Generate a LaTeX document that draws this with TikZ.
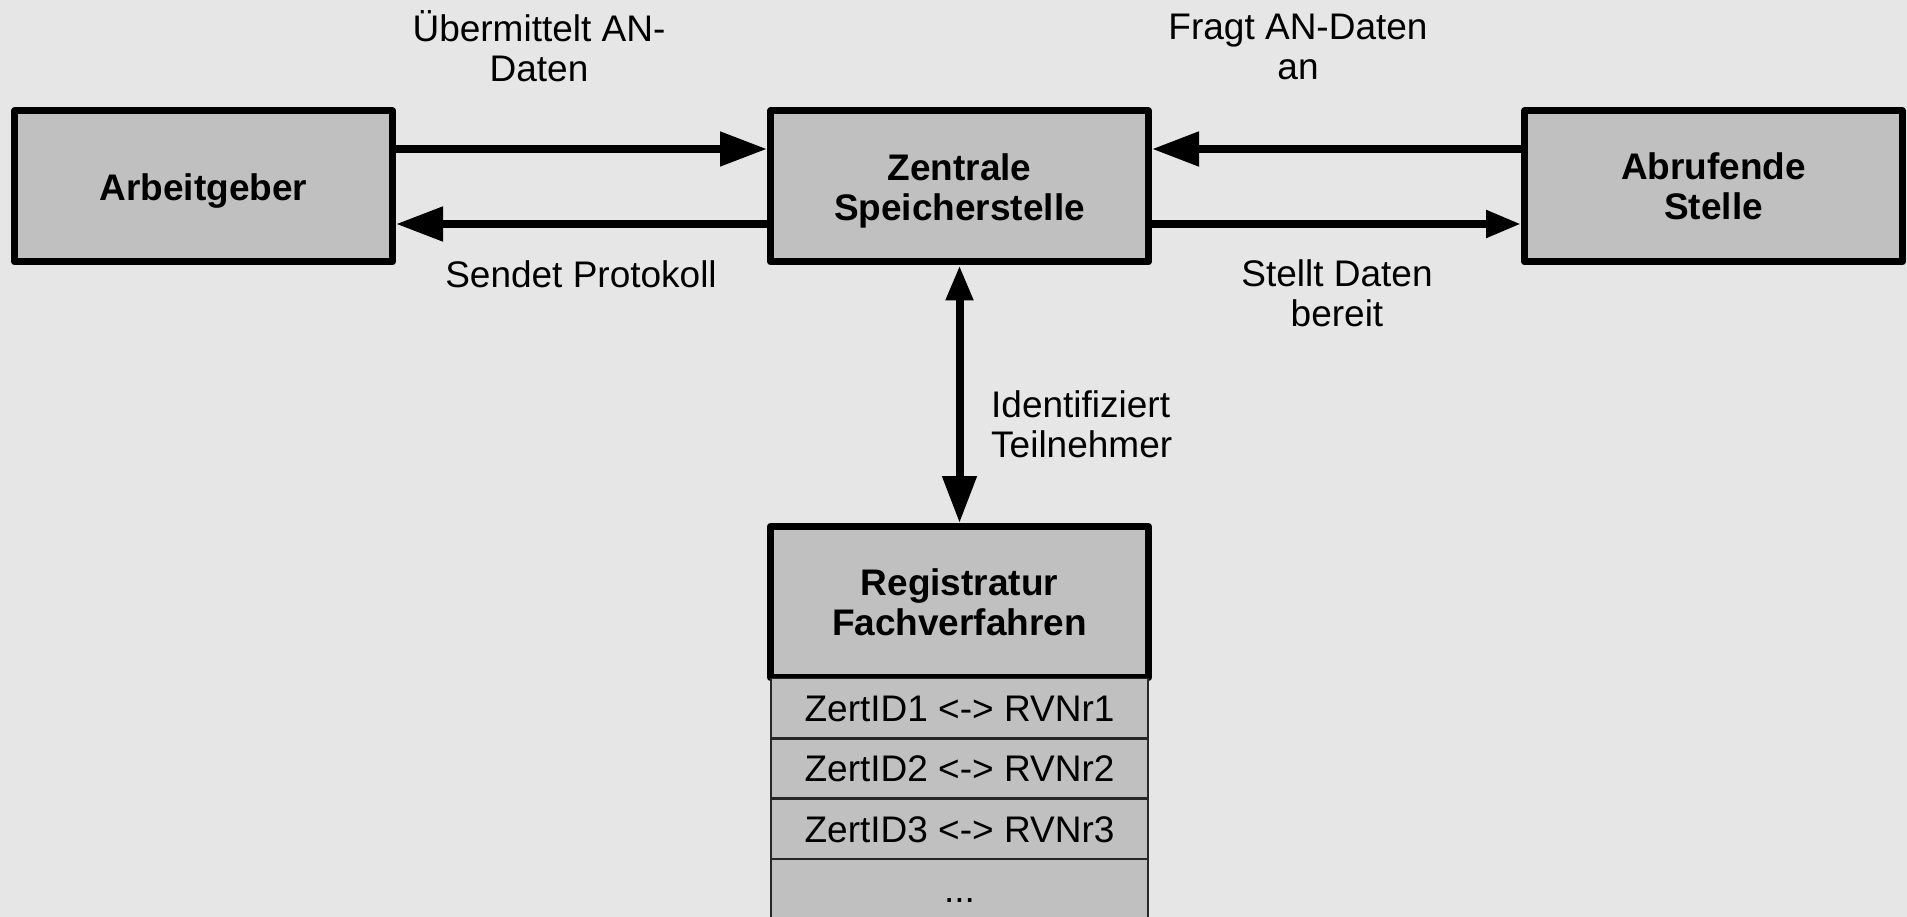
\documentclass[tikz,border=0pt]{standalone}
\usepackage{fontspec}
\setmainfont{Liberation Sans}
\usetikzlibrary{arrows.meta,calc}
\definecolor{bgcol}{HTML}{E6E6E6}
\definecolor{boxfill}{HTML}{C0C0C0}
\tikzset{
  BigTri/.tip={Triangle[length=47pt,width=33pt]},
  SmallTri/.tip={Triangle[length=35pt,width=26pt]},
}
\begin{document}
\begin{tikzpicture}[x=1pt,y=-1pt,
  box/.style={draw=black, fill=boxfill, line width=7pt, line join=round, minimum width=378pt, minimum height=151pt, inner sep=0pt, align=center, font=\fontsize{37pt}{40pt}\selectfont\bfseries},
  lbl/.style={align=center, font=\fontsize{37pt}{40pt}\selectfont, inner sep=0pt},
  boldlbl/.style={lbl, font=\fontsize{37pt}{40pt}\selectfont\bfseries},
  tablerow/.style={draw=black!85, fill=boxfill, line width=1.3pt, minimum width=377pt, minimum height=59pt, inner sep=0pt, outer sep=0pt, text height=26.6pt, text depth=0pt, font=\fontsize{37pt}{40pt}\selectfont},
  conn/.style={line width=8pt},
]
\useasboundingbox[fill=bgcol] (0,0) rectangle (1907,917);

\node[box] (ag) at (203.5,186.5) {};
\node[boldlbl] (agt) at (203.5,191.5) {Arbeitgeber};
\node[box] (zs) at (959.5,186.5) {};
\node[boldlbl] (zst) at (959.5,191) {Zentrale\\Speicherstelle};
\node[box] (ab) at (1713.5,186.5) {Abrufende\\Stelle};

\node[box] (rf) at (959.5,602) {Registratur\\Fachverfahren};
\node[tablerow] (r1) at (959.5,708.2) {ZertID1 <-> RVNr1};
\node[tablerow] (r2) at (959.5,768.5) {ZertID2 <-> RVNr2};
\node[tablerow] (r3) at (959.5,828.8) {ZertID3 <-> RVNr3};
\node[tablerow] (r4) at (959.5,889.1) {...};

\coordinate (ytop) at (0,149);
\coordinate (ybot) at (0,224);

\draw[conn,-BigTri] (ag.east |- ytop) -- (zs.west |- ytop);
\draw[conn,-BigTri] (zs.west |- ybot) -- (ag.east |- ybot);
\draw[conn,-BigTri] (ab.west |- ytop) -- (zs.east |- ytop);
\draw[conn,-SmallTri] (zs.east |- ybot) -- (ab.west |- ybot);
\draw[conn,SmallTri-BigTri] (zs.south) -- (rf.north);

\node[lbl] (l1) at (539,46) {Übermittelt AN-\\Daten};
\node[lbl] (l2) at (581,274) {Sendet Protokoll};
\node[lbl] (l3) at (1298,47) {Fragt AN-Daten\\an};
\node[lbl] (l4) at (1337,293) {Stellt Daten\\bereit};
\node[lbl, align=left, anchor=west] (l5) at (991,424) {Identifiziert\\Teilnehmer};
\end{tikzpicture}
\end{document}
